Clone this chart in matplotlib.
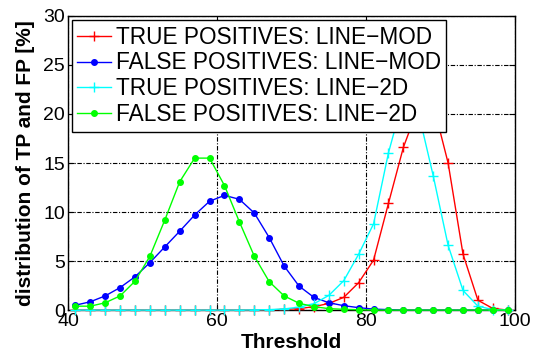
import matplotlib
matplotlib.use('Agg')
import matplotlib.pyplot as plt

plt.rcParams['font.family'] = ['Liberation Sans', 'DejaVu Sans']

# threshold values (every 2 units)
threshold = [41, 43, 45, 47, 49, 51, 53, 55, 57, 59,
             61, 63, 65, 67, 69, 71, 73, 75, 77, 79,
             81, 83, 85, 87, 89, 91, 93, 95, 97, 99]

tp_linemod = [0, 0, 0, 0, 0, 0, 0, 0, 0, 0,
              0, 0, 0, 0.02, 0.08, 0.15, 0.35, 0.68, 1.3, 2.8,
              5.1, 10.9, 16.6, 20.7, 21.0, 15.0, 5.7, 1.0, 0.17, 0]
fp_linemod = [0.5, 0.85, 1.45, 2.3, 3.4, 4.85, 6.45, 8.05, 9.7, 11.1,
              11.7, 11.3, 9.9, 7.4, 4.5, 2.45, 1.3, 0.75, 0.45, 0.25,
              0.1, 0.05, 0, 0, 0, 0, 0, 0, 0, 0]
tp_line2d = [0, 0, 0, 0, 0, 0, 0, 0, 0, 0,
             0, 0, 0.02, 0.05, 0.12, 0.3, 0.65, 1.5, 3.0, 5.7,
             8.8, 16.05, 21.6, 20.2, 13.7, 6.6, 2.0, 0.4, 0.05, 0]
fp_line2d = [0.4, 0.4, 0.75, 1.45, 2.95, 5.5, 9.2, 13.1, 15.5, 15.5,
             12.7, 9.0, 5.5, 2.9, 1.45, 0.7, 0.35, 0.15, 0.08, 0.04,
             0, 0, 0, 0, 0, 0, 0, 0, 0, 0]

labels = ['TRUE POSITIVES: LINE\u2212MOD', 'FALSE POSITIVES: LINE\u2212MOD',
          'TRUE POSITIVES: LINE\u22122D', 'FALSE POSITIVES: LINE\u22122D']

fig = plt.figure(figsize=(5.35, 3.54), dpi=100)
ax = fig.add_axes([0.127, 0.124, 0.836, 0.831])

# lines sit above the axis frame so the zero-level curves stay visible
style = dict(lw=1, clip_on=False, zorder=3)
ax.plot(threshold, tp_linemod, color='#ff0000', marker='+', ms=7, mew=1, label=labels[0], **style)
ax.plot(threshold, fp_linemod, color='#0000ff', marker='o', ms=4, label=labels[1], **style)
ax.plot(threshold, tp_line2d, color='#00ffff', marker='+', ms=7, mew=1, label=labels[2], **style)
ax.plot(threshold, fp_line2d, color='#00ff00', marker='o', ms=4, label=labels[3], **style)

ax.set_xlim(40, 100)
ax.set_ylim(0, 30)
ax.set_xticks([40, 60, 80, 100])
ax.set_yticks([0, 5, 10, 15, 20, 25, 30])
ax.tick_params(direction='in', top=True, right=True, length=4, width=0.8,
               labelsize=14, pad=2)
ax.grid(True, color='black', lw=0.8, ls=(0, (4, 1.5, 1, 1.5)))
for s in ax.spines.values():
    s.set_linewidth(1)

ax.set_xlabel('Threshold', fontsize=15, fontweight='bold', labelpad=2)
ax.set_ylabel('distribution of TP and FP [%]', fontsize=15, fontweight='bold', labelpad=6)

leg = ax.legend(loc='upper left', bbox_to_anchor=(0.008, 0.986), borderaxespad=0,
                fontsize=16.3, fancybox=False, framealpha=1, edgecolor='black',
                handlelength=1.5, handletextpad=0.2, labelspacing=0.12,
                borderpad=0.25)
leg.get_frame().set_linewidth(1)
leg.set_zorder(5)

fig.savefig('out.png', dpi=100)
